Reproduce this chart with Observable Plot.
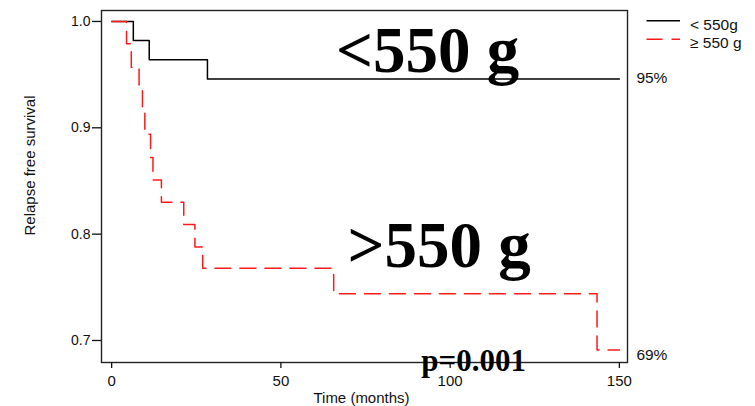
<!DOCTYPE html>
<html>
<head>
<meta charset="utf-8">
<script src="https://cdn.jsdelivr.net/npm/d3@7"></script>
<script src="https://cdn.jsdelivr.net/npm/@observablehq/plot@0.6"></script>
<style>
  html, body { margin: 0; padding: 0; background: #fff; }
</style>
</head>
<body>
<div id="chart"></div>
<script>
// ---- data ----
const lowTimes = [0, 6.4, 11.1, 28.3, 150];
const lowSurv  = [1.0, 0.982, 0.964, 0.946, 0.946];

const highTimes = [0, 4.4, 5.8, 8.1, 9.1, 9.8, 11.5, 12.2, 14.7, 21.3, 24.6, 26.9, 65.6, 143.4, 150];
const highSurv  = [1.0, 0.979, 0.957, 0.936, 0.915, 0.894, 0.872, 0.851, 0.830, 0.809, 0.788, 0.768, 0.744, 0.691, 0.691];

const xTicks = [0, 50, 100, 150];
const yTicks = [0.7, 0.8, 0.9, 1.0];

const seriesNames = ["< 550g", "≥ 550 g"];
const endLabels = ["95%", "69%"];
const groupLabels = ["<550 g", ">550 g"];
const pValueLabel = "p=0.001";
const xLabel = "Time (months)";
const yLabel = "Relapse free survival";

const low = lowTimes.map((t, i) => ({t, s: lowSurv[i]}));
const high = highTimes.map((t, i) => ({t, s: highSurv[i]}));

const sans = "'Liberation Sans', Arial, sans-serif";
const serif = "'Liberation Serif', 'Times New Roman', serif";

const plot = Plot.plot({
  width: 755,
  height: 406,
  marginLeft: 101,
  marginRight: 128,
  marginTop: 10,
  marginBottom: 44,
  style: {fontFamily: sans, fontSize: "15px", background: "#fff", color: "#111", overflow: "visible"},
  x: {domain: [-3, 152.4], label: null},
  y: {domain: [0.6793, 1.0103], label: null},
  marks: [
    Plot.frame({stroke: "#222", strokeWidth: 1.4}),
    Plot.axisX({ticks: xTicks, tickSize: 6, tickPadding: 7, fontSize: 15, strokeWidth: 1.3, label: null}),
    Plot.axisY({ticks: yTicks, tickSize: 9, tickPadding: 2, fontSize: 14, strokeWidth: 1.3,
                tickFormat: d3.format(".1f"), label: null}),
    Plot.line(low, {x: "t", y: "s", curve: "step-after", stroke: "#000", strokeWidth: 1.5}),
    Plot.line(high, {x: "t", y: "s", curve: "step-after", stroke: "#ff1a1a", strokeWidth: 1.5,
                     strokeDasharray: "16,9"}),
    // end-of-curve percentages
    Plot.text([endLabels[0]], {x: lowTimes[lowTimes.length - 1], y: lowSurv[lowSurv.length - 1],
      textAnchor: "start", dx: 17, dy: -1, fontSize: 15.5, fill: "#111"}),
    Plot.text([endLabels[1]], {x: highTimes[highTimes.length - 1], y: highSurv[highSurv.length - 1],
      textAnchor: "start", dx: 17, dy: 4.5, fontSize: 15.5, fill: "#111"}),
    // big group labels
    Plot.text([groupLabels[0]], {x: 66.3, y: 0.9523, textAnchor: "start", lineAnchor: "bottom",
      fontFamily: serif, fontWeight: "bold", fontSize: 65, fill: "#000"}),
    Plot.text([groupLabels[1]], {x: 69.7, y: 0.7689, textAnchor: "start", lineAnchor: "bottom",
      fontFamily: serif, fontWeight: "bold", fontSize: 65, fill: "#000"}),
    Plot.text([pValueLabel], {x: 91.5, y: 0.6717, textAnchor: "start", lineAnchor: "bottom",
      fontFamily: serif, fontWeight: "bold", fontSize: 31, fill: "#000"}),
    // axis titles
    Plot.text([xLabel], {frameAnchor: "bottom", textAnchor: "middle", lineAnchor: "bottom", dx: -3, dy: 40.5, fontSize: 15, fill: "#111"}),
    Plot.text([yLabel], {frameAnchor: "left", textAnchor: "middle", lineAnchor: "bottom", rotate: -90, dx: -67, dy: -21, fontSize: 15, fill: "#111"})
  ]
});

// legend (top right, outside the frame)
const svg = d3.select(plot);
const lg = svg.append("g").attr("font-family", sans).attr("font-size", 15.5)
  .attr("fill", "#111").attr("text-anchor", "start");
lg.append("line").attr("x1", 646.5).attr("x2", 680).attr("y1", 20.7).attr("y2", 20.7)
  .attr("stroke", "#000").attr("stroke-width", 1.5);
lg.append("line").attr("x1", 646.5).attr("x2", 680).attr("y1", 39.3).attr("y2", 39.3)
  .attr("stroke", "#ff1a1a").attr("stroke-width", 1.5).attr("stroke-dasharray", "16,9");
lg.append("text").attr("x", 690).attr("y", 25).attr("dy", "0.32em").text(seriesNames[0]);
lg.append("text").attr("x", 690).attr("y", 43).attr("dy", "0.32em").text(seriesNames[1]);

document.getElementById("chart").appendChild(plot);
</script>
</body>
</html>
